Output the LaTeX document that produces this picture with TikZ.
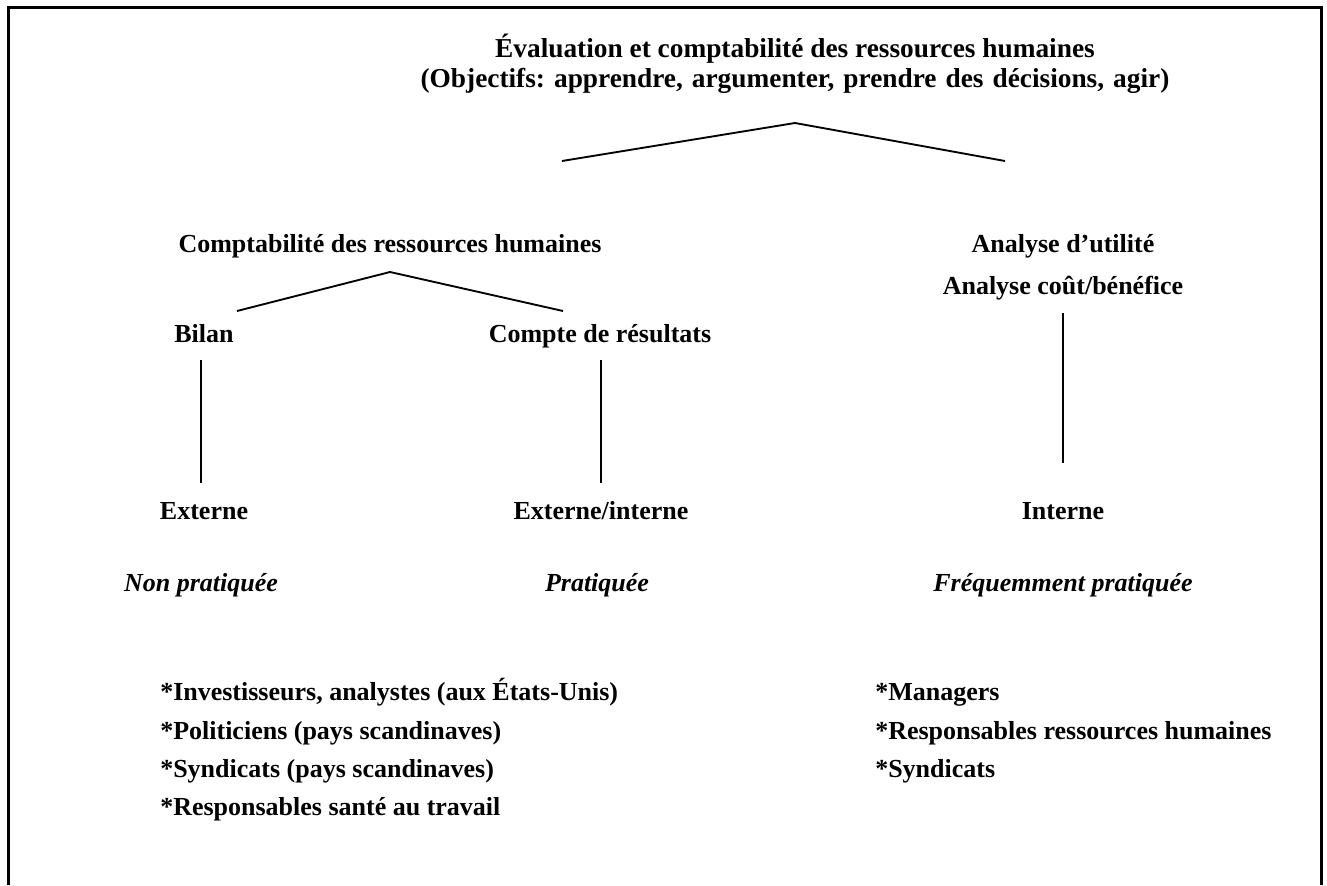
\documentclass[tikz,border=0pt]{standalone}
\usepackage{fontspec}
\setmainfont{Liberation Serif}
\frenchspacing
\begin{document}
\begin{tikzpicture}[x=0.75pt,y=-0.75pt,
  lbl/.style={font=\fontsize{19.5}{23}\selectfont\bfseries, inner sep=0pt, anchor=base},
  ttl/.style={lbl, font=\fontsize{20.5}{24}\selectfont\bfseries},
  ital/.style={lbl, font=\fontsize{19.5}{23}\selectfont\bfseries\itshape},
  item/.style={lbl, anchor=base west},
  link/.style={line width=1.4pt}]
\useasboundingbox (0,0) rectangle (1327,885);
% open frame
\draw[line width=1.6pt] (8.5,885) -- (8.5,7.5) -- (1321.5,7.5) -- (1321.5,885);

% headings
\node[ttl] (t1) at (795,57) {Évaluation et comptabilité des ressources humaines};
\node[ttl] (t2) at (795,87) {\spaceskip=0.33em plus 0.1em\relax (Objectifs: apprendre, argumenter, prendre des décisions, agir)};

\node[lbl] (crh) at (390,252) {Comptabilité des ressources humaines};
\node[lbl] (au) at (1063,252) {Analyse d’utilité};
\node[lbl] (acb) at (1063,294) {Analyse coût/bénéfice};

\node[lbl] (bilan) at (204,342) {Bilan};
\node[lbl] (cr) at (600,342) {Compte de résultats};

\node[lbl] (ext) at (204,519) {Externe};
\node[lbl] (extint) at (601,519) {Externe/interne};
\node[lbl] (int) at (1063,519) {Interne};

\node[ital] (np) at (201,591) {Non pratiquée};
\node[ital] (p) at (597,591) {Pratiquée};
\node[ital] (fp) at (1063,591) {Fréquemment pratiquée};

% user groups
\node[item] (u1) at (160,700) {*Investisseurs, analystes (aux États-Unis)};
\node[item] (u2) at (160,739) {*Politiciens (pays scandinaves)};
\node[item] (u3) at (160,777) {*Syndicats (pays scandinaves)};
\node[item] (u4) at (160,815) {*Responsables santé au travail};
\node[item] (v1) at (875,700) {*Managers};
\node[item] (v2) at (875,739) {*Responsables ressources humaines};
\node[item] (v3) at (875,777) {*Syndicats};

% branch points
\coordinate (top) at (795,123);
\coordinate (topL) at (562,161);
\coordinate (topR) at (1005,161);
\coordinate (mid) at (390,272);
\coordinate (midL) at (237,311);
\coordinate (midR) at (563,311);
\coordinate (b1) at (201,360);
\coordinate (b2) at (201,483);
\coordinate (c1) at (601,360);
\coordinate (c2) at (601,483);
\coordinate (a1) at (1063,313);
\coordinate (a2) at (1063,463);

\draw[link] (topL) -- (top) -- (topR);
\draw[link] (midL) -- (mid) -- (midR);
\draw[link] (b1) -- (b2);
\draw[link] (c1) -- (c2);
\draw[link] (a1) -- (a2);
\end{tikzpicture}
\end{document}
